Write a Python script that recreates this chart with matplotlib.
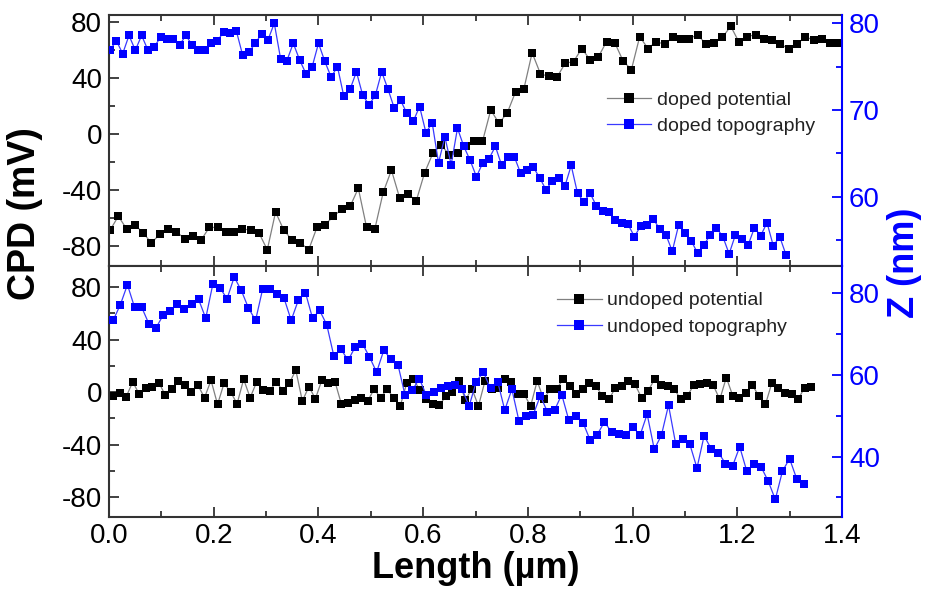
import numpy as np
import matplotlib
matplotlib.use("Agg")
import matplotlib.pyplot as plt
from matplotlib.ticker import MultipleLocator
from matplotlib.lines import Line2D

plt.rcParams['font.family'] = ['Liberation Sans', 'DejaVu Sans']
plt.rcParams['axes.unicode_minus'] = False

# ---------------- data ----------------
doped_potential = [
    -69, -59, -68, -65, -71, -78, -72, -68, -70, -75, -73, -76, -67, -67, -70, -70,
    -68, -69, -71, -83, -56, -69, -76, -78, -83, -67, -65, -59, -54, -52, -39,
    -67, -68, -42, -26, -46, -43, -48, -28, -14, -8, -15, -14, -9, -5.5, -5.5,
    17, 7.6, 15, 30, 32, 58, 43, 41, 40.5, 50.5, 51.6, 61, 53, 55,
    66, 65, 52, 46, 69.5, 61, 66, 64, 69, 68, 68, 71, 64, 65, 69, 77,
    65.5, 69.5, 71, 68, 67, 64, 61, 64, 69.5, 67, 68, 65, 64.8]
doped_potential_span = (0.002, 1.393)

doped_topography = [
    76.9, 78.0, 76.5, 78.6, 76.9, 78.6, 76.9, 77.3, 78.4, 78.2, 78.2, 77.5, 78.6,
    77.5, 76.9, 76.9, 77.7, 78.0, 79.0, 78.9, 79.1, 76.3, 76.7, 77.7, 78.8, 78.1,
    80.0, 75.9, 75.7, 77.7, 75.8, 74.2, 75.0, 77.7, 75.6, 73.8, 75.0, 71.6, 72.4,
    74.4, 71.7, 70.6, 71.7, 74.4, 72.4, 70.2, 71.1, 69.6, 68.7, 70.4, 67.4, 68.5,
    63.9, 66.9, 63.7, 67.9, 65.8, 64.2, 62.3, 63.9, 64.4, 65.8, 63.6, 64.6,
    64.6, 62.7, 63.1, 63.4, 62.2, 60.8, 61.8, 62.1, 61.2, 63.6, 60.4, 59.4, 60.4,
    58.9, 58.3,
    58.2, 57.3, 57.0, 56.8, 55.4, 56.6, 56.7, 57.4, 56.3, 55.6, 53.7, 56.7, 55.8,
    54.9, 53.5, 54.4, 55.6, 56.4, 55.4, 53.4, 55.6, 55.1, 54.4, 56.4, 55.5, 57.0,
    54.3, 55.4, 53.3]
doped_topography_span = (0.002, 1.293)

undoped_potential = [
    -2.9, -0.8, -3.4, 7.8, -1.6, 3.4, 4.2, 7.3, -2.4, 2.2, 8.5, 5.2, 0.1, 5.2,
    -4.2, 9.0, -9.3, 6.8, 0.1, -8.8, 9.8, -4.2, 7.8, 1.4, 0.9, 8.0, 0.9, 6.8,
    16.7, -6.8, 4.2, -5.0, 9.3, 6.8, 8.0, -9.3, -8.5, -6.0, -4.2,
    -6.8, 2.2, -4.2, 2.2, -4.2, -10.6, 6.8, 9.8, 2.0, -5.5, -9.3, -10.1, -3.0,
    0.0, 8.5, -6.0, 2.7, -10.6, 8.5, 2.7, 3.4, 10.3, 7.8, -1.6, -1.6, -10.6,
    8.5, -5.5, 2.2, 2.2, 10.3, 4.7, -1.6, 2.2, 6.8, 4.7, -2.9,
    -5.5, 3.4, 4.7, 8.5, 5.9, -4.2, 0.9, 9.8, 5.2, 4.7, 2.7, -5.5, -2.9, 5.2,
    5.9, 6.8, 5.2, -5.5, 11.1, -2.9, -4.2, -0.3, 5.2, -2.9, -9.3, 7.3, 3.4,
    -0.8, -1.6, -5.5, 3.4, 4.2]
undoped_potential_span = (0.008, 1.341)

undoped_topography = [
    73.4, 77.2, 82.1, 76.6, 76.6, 72.6, 71.5, 74.6, 75.6, 77.5, 76.2, 77.5, 78.5,
    73.9, 82.3, 81.3, 78.7, 84.0, 80.7, 76.4, 73.4, 81.1, 81.1, 79.9, 78.8, 73.4,
    78.3, 80.2, 73.9, 75.8, 72.3, 64.6, 66.3, 63.6, 66.9,
    67.7, 64.4, 60.7, 66.0, 64.0, 62.5, 55.0, 56.2, 59.1, 55.0, 55.8, 56.7, 57.3,
    57.6, 56.5, 52.4, 58.4, 60.7, 56.7, 58.4, 51.4, 56.5, 48.7, 50.0, 50.3, 54.9,
    50.9, 51.4, 55.2, 48.9, 50.0, 48.3, 44.0, 45.4, 48.5,
    46.0, 45.6, 45.2, 47.3, 45.2, 50.4, 41.8, 45.2, 52.6, 43.2, 44.4, 43.0, 37.2,
    45.1, 41.9, 41.0, 38.3, 37.7, 42.4, 36.4, 38.3, 37.5, 34.0, 29.5, 36.4, 39.5,
    34.6, 33.4]
undoped_topography_span = (0.008, 1.327)

x_ticks = [0.0, 0.2, 0.4, 0.6, 0.8, 1.0, 1.2, 1.4]
cpd_ticks = [-80, -40, 0, 40, 80]
z_ticks_top = [60, 70, 80]
z_ticks_bottom = [40, 60, 80]


def xs(vals, span):
    return np.linspace(span[0], span[1], len(vals))


# ---------------- figure ----------------
W, H = 932, 589
fig = plt.figure(figsize=(W / 100, H / 100), dpi=100)
L = 109 / W
AW = 733 / W
AH = 251 / H
ax_top = fig.add_axes([L, (H - 266) / H, AW, AH])
ax_bot = fig.add_axes([L, (H - 517) / H, AW, AH])
axt_top = ax_top.twinx()
axt_bot = ax_bot.twinx()

BLUE = '#0000ff'
SPINE = '#333333'
TICK_FS = 20

black_kw = dict(color='#808080', lw=0.9, marker='s', mfc='black', mec='black', mew=0)
blue_kw = dict(color='#3a3aff', lw=0.9, marker='s', mfc=BLUE, mec=BLUE, mew=0)

ax_top.plot(xs(doped_potential, doped_potential_span), doped_potential, ms=6.4, **black_kw)
axt_top.plot(xs(doped_topography, doped_topography_span), doped_topography, ms=5.8, **blue_kw)
ax_bot.plot(xs(undoped_potential, undoped_potential_span), undoped_potential, ms=5.9, **black_kw)
axt_bot.plot(xs(undoped_topography, undoped_topography_span), undoped_topography, ms=5.7, **blue_kw)

ax_top.set_ylim(-94.6, 85.0)
axt_top.set_ylim(52.0, 80.96)
ax_bot.set_ylim(-95, 96)
axt_bot.set_ylim(25.2, 86.7)

for ax in (ax_top, ax_bot):
    ax.set_xlim(0, 1.4)
    ax.set_xticks(x_ticks)
    ax.xaxis.set_minor_locator(MultipleLocator(0.1))
    ax.set_yticks(cpd_ticks)
    ax.yaxis.set_minor_locator(MultipleLocator(20))
    ax.tick_params(which='both', direction='in', top=True, right=False,
                   color=SPINE, width=1.3, labelsize=TICK_FS, pad=5)
    ax.tick_params(which='major', length=7)
    ax.tick_params(which='minor', length=4)
    for s in ('left', 'top', 'bottom'):
        ax.spines[s].set_color(SPINE)
        ax.spines[s].set_linewidth(1.5)
    ax.spines['right'].set_visible(False)

ax_top.set_xticklabels([])
ax_bot.set_xticklabels(['%.1f' % t for t in x_ticks])
ax_bot.tick_params(axis='x', pad=4)

axt_top.set_yticks(z_ticks_top)
axt_top.yaxis.set_minor_locator(MultipleLocator(5))
axt_bot.set_yticks(z_ticks_bottom)
axt_bot.yaxis.set_minor_locator(MultipleLocator(10))
for ax in (axt_top, axt_bot):
    ax.tick_params(which='both', direction='in', colors=BLUE, width=1.3,
                   labelsize=TICK_FS, pad=5)
    ax.tick_params(which='major', length=7)
    ax.tick_params(which='minor', length=4)
    for s in ('left', 'top', 'bottom'):
        ax.spines[s].set_visible(False)
    ax.spines['right'].set_color(BLUE)
    ax.spines['right'].set_linewidth(1.5)

# legends
def legend_handles(lbl1, lbl2):
    return [Line2D([], [], ms=6.5, **black_kw, label=lbl1),
            Line2D([], [], ms=6.5, **blue_kw, label=lbl2)]

leg_kw = dict(frameon=False, fontsize=14, numpoints=1, handlelength=2.3,
              handletextpad=0.3, labelspacing=0.45, borderpad=0, borderaxespad=0,
              loc='center left', labelcolor='#222222')
axt_top.legend(handles=legend_handles('doped potential', 'doped topography'),
               bbox_to_anchor=(0.679, 0.61), **leg_kw)
axt_bot.legend(handles=legend_handles('undoped potential', 'undoped topography'),
               bbox_to_anchor=(0.611, 0.81), **leg_kw)

# axis labels
fig.text(25 / W, 1 - 214 / H, 'CPD (mV)', rotation=90, fontsize=27,
         fontweight='bold', ha='center', va='center')
fig.text(905 / W, 1 - 263 / H, 'Z (nm)', rotation=90, fontsize=26,
         fontweight='bold', ha='center', va='center', color=BLUE)
fig.text((109 + 842) / 2 / W, 1 - 568 / H, 'Length (µm)', fontsize=26,
         fontweight='bold', ha='center', va='center')

fig.savefig('out.png', dpi=100)
